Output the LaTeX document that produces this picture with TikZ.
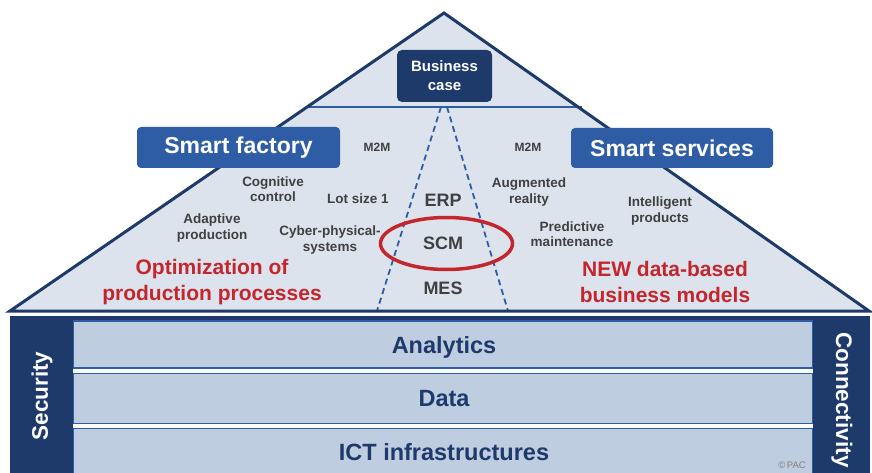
\documentclass[tikz,border=0pt]{standalone}
\usepackage{fontspec}
\setmainfont{Liberation Sans}
\definecolor{navy}{HTML}{1D3A6B}
\definecolor{midblue}{HTML}{2E5DA6}
\definecolor{trifill}{HTML}{DCE3EC}
\definecolor{cellfill}{HTML}{BFCDE0}
\definecolor{pacred}{HTML}{C4262E}
\definecolor{labgray}{HTML}{404040}
\begin{document}
\begin{tikzpicture}[x=1pt,y=-1pt,
  lbl/.style={font=\fontsize{13.5}{15.5}\selectfont\bfseries, text=labgray, align=center, inner sep=0pt},
  tiny/.style={font=\fontsize{12}{13}\selectfont\bfseries, text=labgray, inner sep=0pt},
  sys/.style={font=\fontsize{18}{20}\selectfont\bfseries, text=labgray, inner sep=0pt},
  goal/.style={font=\fontsize{21}{26}\selectfont\bfseries, text=pacred, align=center, inner sep=0pt},
  smartbox/.style={fill=midblue, rounded corners=4pt, text=white, font=\fontsize{23}{26}\selectfont\bfseries, inner sep=0pt},
  layer/.style={font=\fontsize{23.5}{26}\selectfont\bfseries, text=navy, inner sep=0pt},
  pillar/.style={font=\fontsize{22.5}{26}\selectfont\bfseries, text=white, inner sep=0pt},
  cell/.style={fill=cellfill, draw=midblue, line width=1.6pt},
  dashline/.style={midblue, line width=1.8pt, dash pattern=on 6pt off 4pt}
]
\useasboundingbox (0,0) rectangle (872,473);
\fill[white] (0,0) rectangle (872,473);

% roof
\coordinate (apex) at (444,13);
\coordinate (bl) at (10,311);
\coordinate (br) at (869,311);
\coordinate (hl) at (306,107);
\coordinate (hr) at (582,107);
\coordinate (dtl) at (441,107);
\coordinate (dtr) at (447,107);
\coordinate (dbl) at (377,311);
\coordinate (dbr) at (508,311);
\fill[trifill] (apex) -- (bl) -- (br) -- cycle;
\draw[midblue, line width=1.8pt] (hl) -- (hr);
\draw[dashline] (dtl) -- (dbl);
\draw[dashline] (dtr) -- (dbr);
\draw[navy, line width=3pt, line join=miter] (apex) -- (bl) -- (br) -- cycle;

% business case
\node[fill=navy, rounded corners=5pt, minimum width=95pt, minimum height=52pt, inner sep=0pt,
      text=white, font=\fontsize{15}{19}\selectfont\bfseries, align=center] (bc) at (444.5,76) {Business\\case};

% smart boxes
\node[smartbox, minimum width=203pt, minimum height=41pt] (sf) at (238.5,147.5) {Smart factory};
\node[smartbox, minimum width=202pt, minimum height=40pt] (ss) at (672,148) {Smart services};

% left labels
\node[tiny] (m2ml) at (377,147) {M2M};
\node[lbl] (cog) at (273,189) {Cognitive\\control};
\node[lbl] (lot) at (358,199) {Lot size 1};
\node[lbl] (adp) at (212,228) {Adaptive\\production};
\node[lbl] (cps) at (330,240) {Cyber-physical-\\systems};
\node[goal] (opt) at (212,282) {Optimization of\\production processes};

% centre
\node[sys] (erp) at (443,200) {ERP};
\node[sys] (scm) at (443,243) {SCM};
\node[sys] (mes) at (443,288) {MES};
\draw[pacred, line width=3.5pt] (446.5,243.5) ellipse [x radius=66pt, y radius=26pt];

% right labels
\node[tiny] (m2mr) at (528,147) {M2M};
\node[lbl] (aug) at (529,192) {Augmented\\reality};
\node[lbl] (pred) at (572,234) {Predictive\\maintenance};
\node[lbl] (intel) at (660,211) {Intelligent\\products};
\node[goal] (newdb) at (665,282) {NEW data-based\\business models};

% base
\fill[navy] (10,316) rectangle (870,473);
\fill[white] (73,321) rectangle (813,473);
\draw[cell] (73,321) rectangle (813,368);
\draw[cell] (73,373.5) rectangle (813,423.5);
\draw[cell] (73,428.5) rectangle (813,476);
\fill[navy] (10,316) rectangle (73,473);
\fill[navy] (813,316) rectangle (870,473);

\node[layer] (ana) at (444,347) {Analytics};
\node[layer] (dat) at (444,399) {Data};
\node[layer] (ict) at (444,452) {ICT infrastructures};
\node[pillar, rotate=90] (sec) at (42,396) {Security};
\node[pillar, rotate=-90] (con) at (842,400) {Connectivity};
\node[font=\fontsize{9.5}{10}\selectfont, text=gray, inner sep=0pt] (pac) at (792,465) {\textcopyright\,PAC};
\end{tikzpicture}
\end{document}
